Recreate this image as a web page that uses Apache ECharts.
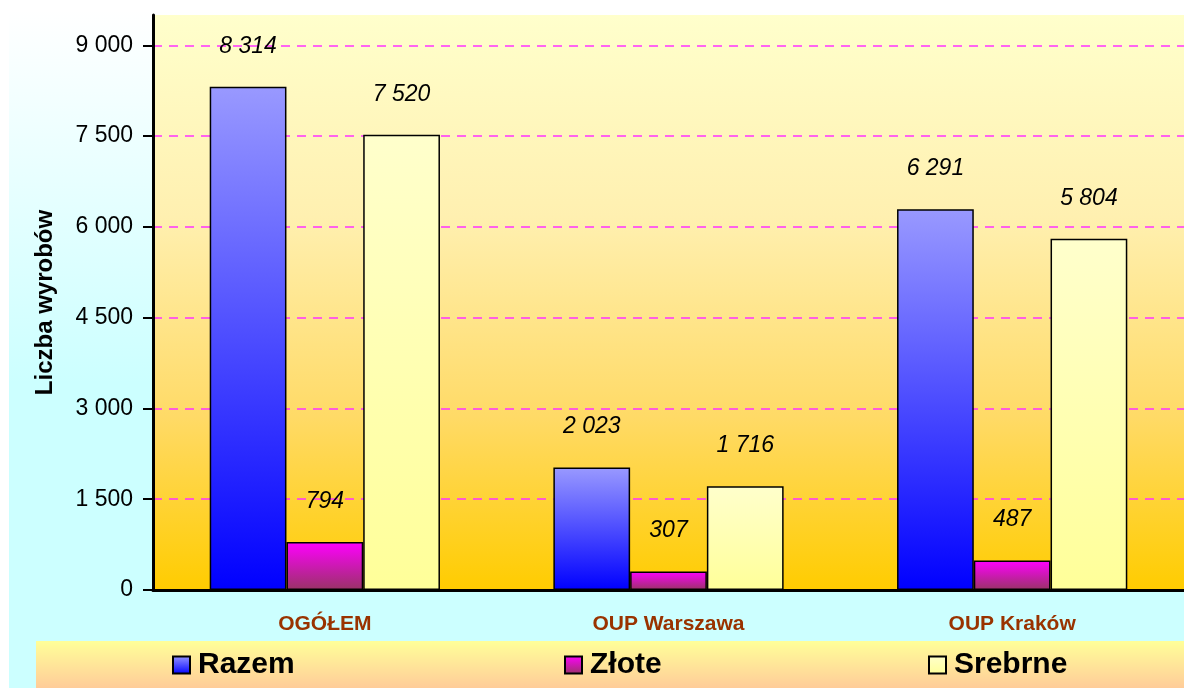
<!DOCTYPE html>
<html>
<head>
<meta charset="utf-8">
<script src="https://cdn.jsdelivr.net/npm/echarts@6/dist/echarts.min.js"></script>
<style>
  html, body { margin: 0; padding: 0; background: #ffffff; }
  #chart { width: 1184px; height: 688px; }
</style>
</head>
<body>
<div id="chart"></div>
<script>
const categories = ['OGÓŁEM', 'OUP Warszawa', 'OUP Kraków']
const razem = [8314, 2023, 6291]
const zlote = [794, 307, 487]
const srebrne = [7520, 1716, 5804]
const yTicks = [0, 1500, 3000, 4500, 6000, 7500, 9000]

const FONT = 'Liberation Sans, Arial, sans-serif'

function spaced(value) {
  return String(value).replace(/\B(?=(\d{3})+(?!\d))/g, ' ')
}

function vGrad(stops) {
  return new echarts.graphic.LinearGradient(0, 0, 0, 1, stops.map(([offset, color]) => ({ offset, color })))
}

const valueLabel = {
  show: true,
  position: 'top',
  distance: 29,
  fontFamily: FONT,
  fontStyle: 'italic',
  fontSize: 23,
  color: '#000',
  formatter: (p) => spaced(p.value),
}

function barSeries(name, data, fill) {
  return {
    name,
    type: 'bar',
    data,
    barGap: '0%',
    barCategoryGap: '33%',
    itemStyle: { color: fill, borderColor: '#000', borderWidth: 1.5 },
    label: valueLabel,
  }
}

function legendAt(name, left) {
  return {
    data: [name],
    left,
    top: 650,
    padding: 0,
    icon: 'rect',
    itemWidth: 17,
    itemHeight: 17,
    selectedMode: false,
    textStyle: { fontFamily: FONT, fontWeight: 'bold', fontSize: 30, color: '#000', padding: [0, 0, 0, 3] },
  }
}

const chart = echarts.init(document.getElementById('chart'))

chart.setOption({
  animation: false,
  graphic: [
    {
      type: 'rect',
      z: -20,
      shape: { x: 9, y: 10, width: 1175, height: 678 },
      style: { fill: vGrad([[0, '#ffffff'], [0.55, '#ccffff'], [1, '#ccffff']]) },
    },
    {
      type: 'rect',
      z: -10,
      shape: { x: 36, y: 641, width: 1148, height: 47 },
      style: { fill: vGrad([[0, '#ffff99'], [1, '#ffcc99']]) },
    },
  ],
  legend: [
    legendAt('Razem', 172),
    legendAt('Złote', 564),
    legendAt('Srebrne', 928),
  ],
  grid: {
    left: 153,
    right: 0,
    top: 15,
    bottom: 98,
    show: true,
    borderWidth: 0,
    backgroundColor: vGrad([[0, '#ffffcc'], [0.35, '#fff0b0'], [0.7, '#ffda66'], [1, '#ffcc00']]),
  },
  xAxis: {
    type: 'category',
    data: categories,
    axisLine: { lineStyle: { color: '#000', width: 3 } },
    axisTick: { length: 8, lineStyle: { color: '#000', width: 2 } },
    axisLabel: { color: '#993300', fontFamily: FONT, fontWeight: 'bold', fontSize: 21, margin: 24 },
  },
  yAxis: {
    type: 'value',
    min: 0,
    max: 9500,
    interval: 1500,
    name: 'Liczba wyrobów',
    nameLocation: 'middle',
    nameRotate: 90,
    nameGap: 96,
    nameTextStyle: { fontFamily: FONT, fontWeight: 'bold', fontSize: 24, color: '#000' },
    axisLine: { show: true, lineStyle: { color: '#000', width: 3 } },
    axisTick: { show: true, length: 10, customValues: yTicks, lineStyle: { color: '#000', width: 2 } },
    axisLabel: {
      customValues: yTicks,
      margin: 20,
      color: '#000',
      fontFamily: FONT,
      fontSize: 23,
      formatter: (v) => spaced(v),
    },
    splitLine: {
      show: true,
      showMinLine: false,
      lineStyle: { color: '#ff33ff', width: 1.5, type: [9, 7] },
    },
  },
  series: [
    barSeries('Razem', razem, vGrad([[0, '#9999ff'], [1, '#0000ff']])),
    barSeries('Złote', zlote, vGrad([[0, '#ff00ff'], [1, '#993366']])),
    barSeries('Srebrne', srebrne, vGrad([[0, '#ffffcc'], [1, '#ffff99']])),
  ],
})
</script>
</body>
</html>
